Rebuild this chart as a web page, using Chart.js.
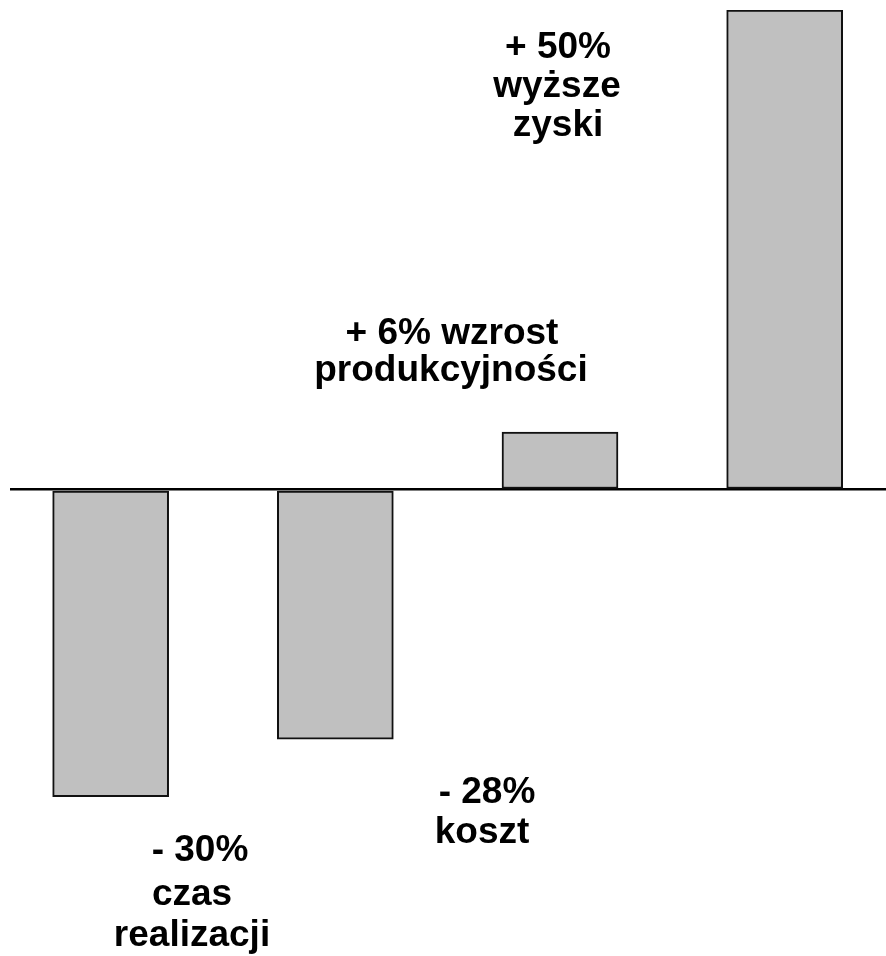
<!DOCTYPE html>
<html>
<head>
<meta charset="utf-8">
<script src="https://cdn.jsdelivr.net/npm/chart.js@4.4.1/dist/chart.umd.min.js"></script>
<style>
  html, body { margin: 0; padding: 0; background: #ffffff; }
  #wrap { width: 886px; height: 956px; position: relative; }
</style>
</head>
<body>
<div id="wrap"><canvas id="c" width="886" height="956"></canvas></div>
<script>
// ---- data ----
const categories = ["czas realizacji", "koszt", "produkcyjność", "zyski"];
const values = [-32, -26, 6, 50];          // bar heights as drawn in the picture
const labelLines = [
  ["- 30%", "czas", "realizacji"],
  ["- 28%", "koszt"],
  ["+ 6% wzrost", "produkcyjności"],
  ["+ 50%", "wyższe", "zyski"]
];
const yMin = -48.6;
const yMax = 50;
const xMin = -0.448;
const xMax = 3.451;

// ---- label placement (pixels, text only) ----
const labelPlacement = [
  { x: [200, 192, 192], y: [861, 905, 946] },
  { x: [487, 482], y: [803, 843] },
  { x: [452, 451], y: [344, 381] },
  { x: [558, 557, 558], y: [58, 97, 136] }
];

const textPlugin = {
  id: 'barTexts',
  afterDraw(chart) {
    const ctx = chart.ctx;
    ctx.save();
    ctx.fillStyle = '#000000';
    ctx.font = 'bold 37px "Liberation Sans", Arial, sans-serif';
    ctx.textAlign = 'center';
    ctx.textBaseline = 'alphabetic';
    labelLines.forEach((lines, i) => {
      const p = labelPlacement[i];
      lines.forEach((t, j) => ctx.fillText(t, p.x[j], p.y[j]));
    });
    ctx.restore();
  }
};

new Chart(document.getElementById('c'), {
  type: 'bar',
  data: {
    datasets: [{
      label: 'zmiana',
      data: values.map((v, i) => ({ x: i, y: v, name: categories[i] })),
      backgroundColor: '#c0c0c0',
      borderColor: '#111111',
      borderWidth: 2,
      borderSkipped: false,
      barThickness: 116
    }]
  },
  options: {
    responsive: false,
    animation: false,
    events: [],
    layout: { padding: { left: 10, right: 0, top: 10, bottom: 0 } },
    plugins: {
      legend: { display: false },
      tooltip: { enabled: false },
      title: { display: false }
    },
    scales: {
      x: {
        type: 'linear',
        display: false,
        offset: false,
        min: xMin,
        max: xMax
      },
      y: {
        display: true,
        min: yMin,
        max: yMax,
        z: 1,
        border: { display: false },
        ticks: { display: false, stepSize: 100 },
        afterBuildTicks(scale) { scale.ticks = [{ value: 0 }]; },
        afterFit(scale) { scale.width = 0; },
        grid: {
          drawTicks: false,
          tickLength: 0,
          color: '#000000',
          lineWidth: 2.5
        }
      }
    }
  },
  plugins: [textPlugin]
});
</script>
</body>
</html>
